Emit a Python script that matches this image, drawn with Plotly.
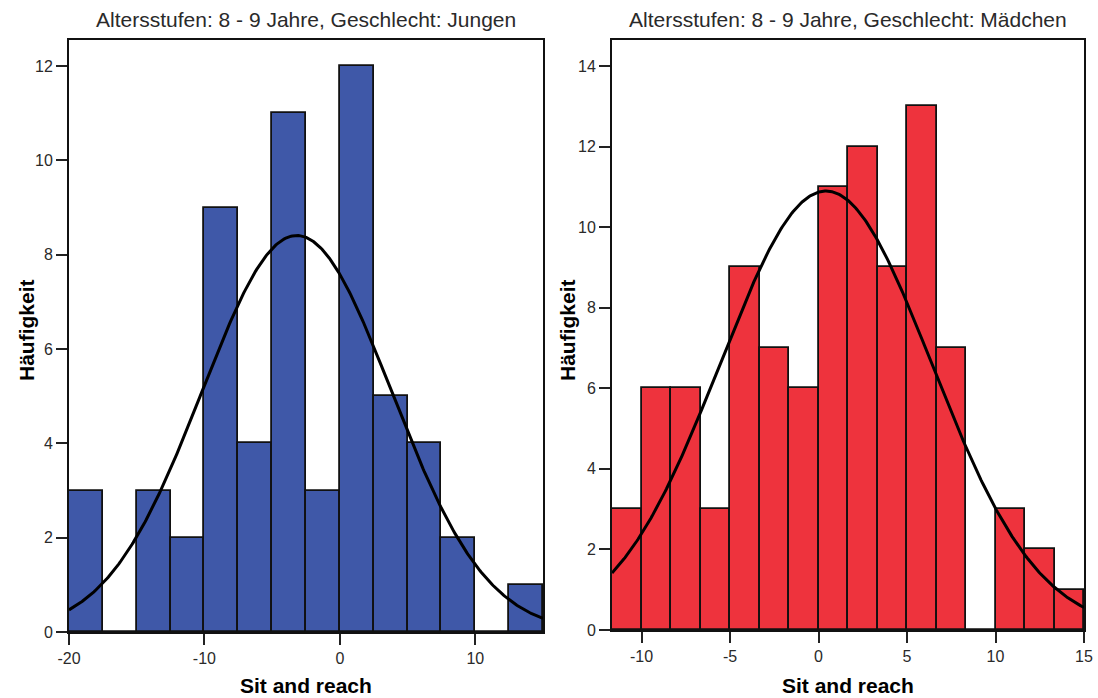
import numpy as np
import plotly.graph_objects as go

# ---------------- data ----------------
boys_bin_edges = [-20, -17.5, -15, -12.5, -10, -7.5, -5, -2.5, 0, 2.5, 5, 7.5, 10, 12.5, 15]
boys_counts = [3, 0, 3, 2, 9, 4, 11, 3, 12, 5, 4, 2, 0, 1]
boys_mean = -3.18
boys_sd = 7.0

girls_bin_edges = [-35/3, -10, -25/3, -20/3, -5, -10/3, -5/3, 0, 5/3, 10/3, 5, 20/3, 25/3, 10, 35/3, 40/3, 15]
girls_counts = [3, 6, 6, 3, 9, 7, 6, 11, 12, 9, 13, 7, 0, 3, 2, 1]
girls_mean = 0.42
girls_sd = 5.98

boys_title = "Altersstufen: 8 - 9 Jahre, Geschlecht: Jungen"
girls_title = "Altersstufen: 8 - 9 Jahre, Geschlecht: Mädchen"
x_title = "Sit and reach"
y_title = "Häufigkeit"

boys_xticks = [-20, -10, 0, 10]
boys_xticklabels = ["-20", "-10", "0", "10"]
boys_yticks = [0, 2, 4, 6, 8, 10, 12]
girls_xticks = [-10, -5, 0, 5, 10, 15]
girls_xticklabels = ["-10", "-5", "0", "5", "10", "15"]
girls_yticks = [0, 2, 4, 6, 8, 10, 12, 14]

BLUE = "#3F58A8"
RED = "#EE333D"
FONT = "Liberation Sans, Arial, sans-serif"

W, H = 1098, 698


def hist_traces(edges, counts, mean, sd, color, xa, ya):
    edges = np.asarray(edges, dtype=float)
    centers = (edges[:-1] + edges[1:]) / 2
    widths = np.diff(edges)
    bar = go.Bar(x=centers, y=counts, width=widths,
                 marker=dict(color=color, line=dict(color="#111111", width=1.8)),
                 xaxis=xa, yaxis=ya, showlegend=False, hoverinfo="x+y")
    n = sum(counts)
    bw = widths.mean()
    xs = np.linspace(edges[0], edges[-1], 400)
    ys = n * bw / (sd * np.sqrt(2 * np.pi)) * np.exp(-((xs - mean) ** 2) / (2 * sd ** 2))
    curve = go.Scatter(x=xs, y=ys, mode="lines", line=dict(color="black", width=3),
                       xaxis=xa, yaxis=ya, showlegend=False, hoverinfo="skip")
    return [bar, curve]


fig = go.Figure()
for t in hist_traces(boys_bin_edges, boys_counts, boys_mean, boys_sd, BLUE, "x", "y"):
    fig.add_trace(t)
for t in hist_traces(girls_bin_edges, girls_counts, girls_mean, girls_sd, RED, "x2", "y2"):
    fig.add_trace(t)

# pixel geometry of the plot areas
L1, R1, T1, B1 = 69, 543, 40, 632
L2, R2, T2, B2 = 612, 1084, 40, 630


def px_dom_x(a, b):
    return [a / W, b / W]


def px_dom_y(top, bottom):
    return [1 - bottom / H, 1 - top / H]


axis_common = dict(showline=True, linecolor="#111111", linewidth=2, mirror=True,
                   ticks="outside", ticklen=11, tickwidth=2, tickcolor="#222222",
                   showgrid=False, zeroline=False, automargin=False,
                   tickfont=dict(family=FONT, size=16, color="#2a2a2a"))

boys_ymax = (B1 - T1) / ((B1 - 66) / 12)
girls_ymax = (B2 - T2) / ((B2 - 66) / 14)

fig.update_layout(
    width=W, height=H,
    margin=dict(l=0, r=0, t=0, b=0, autoexpand=False),
    paper_bgcolor="white", plot_bgcolor="white",
    bargap=0, barmode="overlay",
    xaxis=dict(domain=px_dom_x(L1, R1), range=[boys_bin_edges[0], boys_bin_edges[-1]],
               tickvals=boys_xticks, ticktext=boys_xticklabels, anchor="y", **axis_common),
    yaxis=dict(domain=px_dom_y(T1, B1), range=[0, boys_ymax],
               tickvals=boys_yticks, anchor="x", **axis_common),
    xaxis2=dict(domain=px_dom_x(L2, R2), range=[girls_bin_edges[0], girls_bin_edges[-1]],
                tickvals=girls_xticks, ticktext=girls_xticklabels, anchor="y2", **axis_common),
    yaxis2=dict(domain=px_dom_y(T2, B2), range=[0, girls_ymax],
                tickvals=girls_yticks, anchor="x2", **axis_common),
)

ann = []
title_font = dict(family=FONT, size=21, color="#2a2a2a")
lab_font = dict(family=FONT, size=21, color="black")
for (l, r, title, ax_x) in [(L1, R1, boys_title, 27), (L2, R2, girls_title, 568)]:
    cx = (l + r) / 2 / W
    ann.append(dict(text=title, x=cx, y=1 - 19 / H, xref="paper", yref="paper",
                    showarrow=False, font=title_font, xanchor="center", yanchor="middle"))
    ann.append(dict(text="<b>" + x_title + "</b>", x=cx, y=1 - 685 / H, xref="paper", yref="paper",
                    showarrow=False, font=lab_font, xanchor="center", yanchor="middle"))
    ann.append(dict(text="<b>" + y_title + "</b>", x=ax_x / W, y=1 - 330 / H, xref="paper", yref="paper",
                    showarrow=False, font=lab_font, xanchor="center", yanchor="middle", textangle=-90))
fig.update_layout(annotations=ann)

fig.write_html("out.html")
